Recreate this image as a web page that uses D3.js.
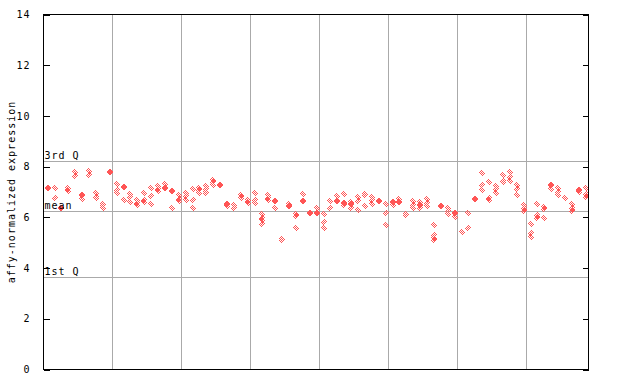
<!DOCTYPE html>
<html>
<head>
<meta charset="utf-8">
<script src="https://cdn.jsdelivr.net/npm/d3@7"></script>
<style>
  body { margin: 0; background: #fff; }
  text { font-family: "DejaVu Sans Mono", monospace; font-size: 10px; fill: #000; }
</style>
</head>
<body>
<div id="chart"></div>
<script>
// expression values, one list per sample column (79 columns, 8 groups)
var sampleValues = [
  [7.16, 7.15], [7.17, 6.78], [6.37, 6.35], [7.15, 7.12, 7.04], [7.78, 7.65],
  [6.90, 6.88, 6.74], [7.82, 7.69], [6.96, 6.79, 6.77], [6.51, 6.49, 6.37], [7.79, 7.77],
  [7.33, 7.08, 6.98], [7.21, 7.19, 6.70], [6.91, 6.81, 6.62], [6.67, 6.57, 6.48], [6.96, 6.70, 6.61],
  [7.17, 6.83, 6.54], [7.24, 7.13, 7.04], [7.33, 7.17, 7.15], [7.05, 7.03, 6.38], [6.87, 6.74, 6.63],
  [6.96, 6.83, 6.70], [7.10, 6.70, 6.35], [7.16, 7.07, 6.98], [7.23, 7.10, 6.99, 6.97], [7.49, 7.38, 7.27],
  [7.28, 7.26], [6.54, 6.52, 6.46], [6.48, 6.35], [6.87, 6.79, 6.77], [6.68, 6.66, 6.57],
  [6.98, 6.67, 6.57], [6.12, 5.99, 5.88, 5.75], [6.87, 6.78, 6.67], [6.66, 6.64, 6.38], [5.13, 5.11],
  [6.54, 6.46, 6.44], [6.12, 6.04, 5.60], [6.94, 6.66, 6.64], [6.18, 6.16], [6.35, 6.18, 6.16],
  [6.15, 5.83, 5.60], [6.64, 6.38], [6.83, 6.66, 6.64], [6.91, 6.58, 6.56, 6.48], [6.61, 6.53, 6.51, 6.38],
  [6.81, 6.64, 6.28], [6.91, 6.89, 6.44], [6.81, 6.67, 6.54], [6.65, 6.63], [6.52, 6.19, 5.71],
  [6.62, 6.60, 6.48], [6.74, 6.62, 6.60], [6.13, 6.11], [6.64, 6.50, 6.35], [6.61, 6.49, 6.47, 6.38],
  [6.71, 6.58, 6.45], [5.71, 5.32, 5.19, 5.10], [6.45, 6.43], [6.35, 6.24, 6.15], [6.18, 6.16, 6.01],
  [5.44], [6.19, 5.60], [6.74, 6.72], [7.73, 7.26, 7.06], [7.41, 6.78, 6.70],
  [7.23, 7.10, 6.97], [7.67, 7.43, 7.41], [7.78, 7.60, 7.45], [7.26, 7.13, 6.87], [6.47, 6.36, 6.34, 6.24],
  [5.73, 5.39, 5.23], [6.51, 6.08, 6.06, 5.99], [6.41, 6.32, 5.99], [7.28, 7.26, 7.10], [7.14, 7.00, 6.90],
  [6.78], [6.54, 6.36, 6.34, 6.24], [7.08, 7.06, 7.00], [7.14, 6.91, 6.89, 6.81]
];
var groupBreaks = [10, 20, 30, 40, 50, 60, 70];
var yTicks = [0, 2, 4, 6, 8, 10, 12, 14];
var refLabels = ["1st Q", "mean", "3rd Q"];
var refValues = [3.64, 6.24, 8.24];

var svgWidth = 640;
var svgHeight = 384;
var plotLeft = 43.5, plotRight = 588.5, plotTop = 14.5, plotBottom = 369.5;
var red = "#ff5555";

var svg = d3.select("#chart")
  .append("svg")
  .attr("width", svgWidth)
  .attr("height", svgHeight);

var defs = svg.append("defs");
// two checker patterns, offset by one pixel, so overlapping points look solid
[["checkA", 0], ["checkB", 1]].forEach(function(p) {
  var pat = defs.append("pattern")
    .attr("id", p[0])
    .attr("patternUnits", "userSpaceOnUse")
    .attr("width", 2)
    .attr("height", 2);
  pat.append("rect").attr("x", p[1]).attr("y", 0).attr("width", 1).attr("height", 1).attr("fill", red);
  pat.append("rect").attr("x", 1 - p[1]).attr("y", 1).attr("width", 1).attr("height", 1).attr("fill", red);
});

var xScale = d3.scaleLinear()
  .domain([0, sampleValues.length])
  .range([plotLeft, plotRight]);

var yScale = d3.scaleLinear()
  .domain([0, 14])
  .range([plotBottom, plotTop]);

// group separators
svg.append("g").selectAll("line")
  .data(groupBreaks)
  .enter()
  .append("line")
  .attr("x1", d => Math.round(xScale(d)) + 0.5)
  .attr("x2", d => Math.round(xScale(d)) + 0.5)
  .attr("y1", plotTop)
  .attr("y2", plotBottom)
  .attr("stroke", "#aaaaaa")
  .attr("shape-rendering", "crispEdges");

// quartile / mean lines
svg.append("g").selectAll("line")
  .data(refValues)
  .enter()
  .append("line")
  .attr("x1", plotLeft)
  .attr("x2", plotRight)
  .attr("y1", d => Math.round(yScale(d)) + 0.5)
  .attr("y2", d => Math.round(yScale(d)) + 0.5)
  .attr("stroke", "#aaaaaa")
  .attr("shape-rendering", "crispEdges");

// points
var points = [];
sampleValues.forEach(function(vals, i) {
  vals.forEach(function(v, j) {
    points.push({col: i, idx: j, value: v});
  });
});

svg.append("g").selectAll("path")
  .data(points)
  .enter()
  .append("path")
  .attr("transform", d => `translate(${Math.round(xScale(d.col + 0.6))}, ${Math.round(yScale(d.value))})`)
  .attr("d", "M0,-4L3.5,0L0,4L-3.5,0Z")
  .attr("fill", d => d.idx % 2 ? "url(#checkB)" : "url(#checkA)")
  .attr("shape-rendering", "crispEdges");

// reference labels
svg.append("g").selectAll("text")
  .data(refValues)
  .enter()
  .append("text")
  .attr("x", plotLeft + 1)
  .attr("y", d => Math.round(yScale(d)) - 2)
  .attr("letter-spacing", 1)
  .text((d, i) => refLabels[i]);

// frame
svg.append("rect")
  .attr("x", plotLeft)
  .attr("y", plotTop)
  .attr("width", plotRight - plotLeft)
  .attr("height", plotBottom - plotTop)
  .attr("fill", "none")
  .attr("stroke", "#000")
  .attr("shape-rendering", "crispEdges");

// axes with inward ticks
var leftAxis = d3.axisLeft(yScale).tickValues(yTicks).tickSize(-6).tickPadding(13);
var rightAxis = d3.axisRight(yScale).tickValues(yTicks).tickSize(-6).tickFormat("");

var gl = svg.append("g")
  .attr("transform", `translate(${plotLeft}, 0)`)
  .call(leftAxis);
var gr = svg.append("g")
  .attr("transform", `translate(${plotRight}, 0)`)
  .call(rightAxis);

[gl, gr].forEach(function(g) {
  g.select(".domain").remove();
  g.selectAll("line").attr("stroke", "#000").attr("shape-rendering", "crispEdges");
  g.selectAll("text")
    .attr("font-family", "DejaVu Sans Mono, monospace")
    .attr("font-size", 10)
    .attr("letter-spacing", 1);
});

// y axis title
svg.append("text")
  .attr("transform", "rotate(-90)")
  .attr("x", -192)
  .attr("y", 15)
  .attr("text-anchor", "middle")
  .attr("letter-spacing", 1)
  .text("affy-normalized expression");
</script>
</body>
</html>
